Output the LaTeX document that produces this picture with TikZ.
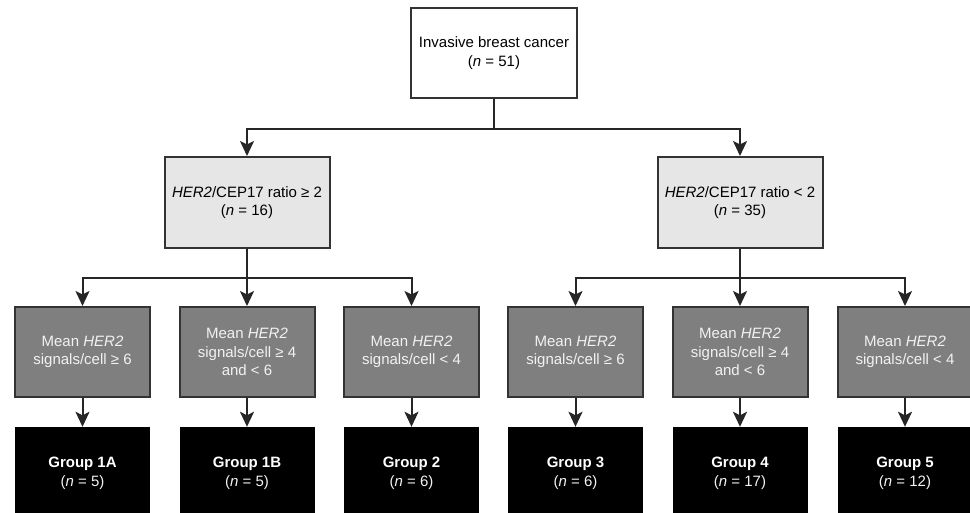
\documentclass[tikz,border=0pt]{standalone}
\usepackage{fontspec}
\setmainfont{Liberation Sans}
\usetikzlibrary{arrows.meta}
\definecolor{boxline}{HTML}{333333}
\definecolor{lightbox}{HTML}{E6E6E6}
\definecolor{midbox}{HTML}{7F7F7F}
\definecolor{softwhite}{HTML}{F2F2F2}

\begin{document}
\begin{tikzpicture}[x=1pt, y=-1pt,
        every node/.style={font=\fontsize{15}{18.5}\selectfont, align=center, inner sep=0pt},
        startbox/.style={draw=boxline, line width=2pt, fill=white, minimum width=166pt, minimum height=90pt},
        ratiobox/.style={draw=boxline, line width=2pt, fill=lightbox, minimum width=165pt, minimum height=91pt},
        meanbox/.style={draw=boxline, line width=2pt, fill=midbox, text=softwhite, minimum width=135pt, minimum height=90pt},
        groupbox/.style={fill=black, text=white, minimum width=135pt, minimum height=100pt},
        arrow/.style={line width=2pt, draw=black!85, -{Stealth[width=14pt, length=15pt, inset=3.5pt]}}]
                \useasboundingbox (0,0) rectangle (970,513);
                \clip (0,0) rectangle (970,513);

                \node[startbox] (start) at (494, 53) {Invasive breast cancer\\(\textit{n} = 51)};

                \node[ratiobox] (pos) at (247, 202.5) {\textit{HER2}/CEP17 ratio ≥ 2\\(\textit{n} = 16)};
                \node[ratiobox] (neg) at (740, 202.5) {\textit{HER2}/CEP17 ratio < 2\\(\textit{n} = 35)};

                \node[meanbox] (mean1) at (82.5, 352) {Mean \textit{HER2}\\signals/cell ≥ 6};
                \node[meanbox] (mean2) at (247, 352) {Mean \textit{HER2}\\signals/cell ≥ 4\\and < 6};
                \node[meanbox] (mean3) at (411.5, 352) {Mean \textit{HER2}\\signals/cell < 4};
                \node[meanbox] (mean4) at (575.5, 352) {Mean \textit{HER2}\\signals/cell ≥ 6};
                \node[meanbox] (mean5) at (740, 352) {Mean \textit{HER2}\\signals/cell ≥ 4\\and < 6};
                \node[meanbox] (mean6) at (905, 352) {Mean \textit{HER2}\\signals/cell < 4};

                % group boxes run past the lower edge
                \node[groupbox, text depth=10pt] (group1a) at (82.5, 477) {\textbf{Group 1A}\\{\color{softwhite}(\textit{n} = 5)}};
                \node[groupbox, text depth=10pt] (group1b) at (247, 477) {\textbf{Group 1B}\\{\color{softwhite}(\textit{n} = 5)}};
                \node[groupbox, text depth=10pt] (group2) at (411.5, 477) {\textbf{Group 2}\\{\color{softwhite}(\textit{n} = 6)}};
                \node[groupbox, text depth=10pt] (group3) at (575.5, 477) {\textbf{Group 3}\\{\color{softwhite}(\textit{n} = 6)}};
                \node[groupbox, text depth=10pt] (group4) at (740, 477) {\textbf{Group 4}\\{\color{softwhite}(\textit{n} = 17)}};
                \node[groupbox, text depth=10pt] (group5) at (905, 477) {\textbf{Group 5}\\{\color{softwhite}(\textit{n} = 12)}};

                \draw[arrow] (start.south) -- ++(0,30) -| (pos.north);
                \draw[arrow] (start.south) -- ++(0,30) -| (neg.north);

                \draw[arrow] (pos.south) -- ++(0,29) -| (mean1.north);
                \draw[arrow] (pos.south) -- (mean2.north);
                \draw[arrow] (pos.south) -- ++(0,29) -| (mean3.north);
                \draw[arrow] (neg.south) -- ++(0,29) -| (mean4.north);
                \draw[arrow] (neg.south) -- (mean5.north);
                \draw[arrow] (neg.south) -- ++(0,29) -| (mean6.north);

                \draw[arrow] (mean1) -- (group1a);
                \draw[arrow] (mean2) -- (group1b);
                \draw[arrow] (mean3) -- (group2);
                \draw[arrow] (mean4) -- (group3);
                \draw[arrow] (mean5) -- (group4);
                \draw[arrow] (mean6) -- (group5);
            \end{tikzpicture}
\end{document}
